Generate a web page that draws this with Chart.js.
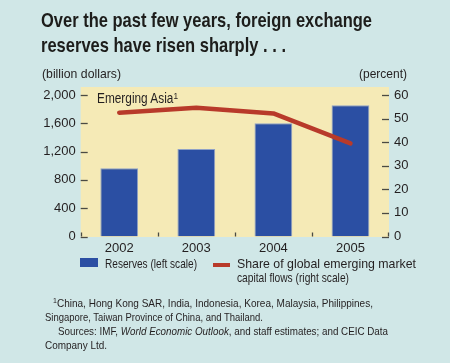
<!DOCTYPE html>
<html>
<head>
<meta charset="utf-8">
<script src="https://cdn.jsdelivr.net/npm/chart.js@4.4.0/dist/chart.umd.min.js"></script>
<style>
  html, body { margin: 0; padding: 0; }
  body { width: 450px; height: 363px; background: #d0e7e7; position: relative; overflow: hidden;
         font-family: 'Liberation Sans', Arial, sans-serif; color: #231f20; }
  #wrap { position: absolute; left: 0; top: 0; width: 450px; height: 363px; }
  .t { position: absolute; white-space: nowrap; transform-origin: 0 50%; }
  .title { left: 41px; font-weight: bold; font-size: 21px; line-height: 25px; color: #1d1d1b; }
  .unit { font-size: 13.5px; top: 66px; }
  .leg { font-size: 13.5px; line-height: 14px; }
  .note { font-size: 11.5px; line-height: 14px; }
  sup { font-size: 0.7em; vertical-align: 0.45em; line-height: 0; }
</style>
</head>
<body>
<div id="wrap"><canvas id="chart" width="450" height="363"></canvas></div>

<div class="t title fit" data-w="331" style="top:7px;">Over the past few years, foreign exchange</div>
<div class="t title fit" data-w="245" style="top:32px;">reserves have risen sharply . . .</div>
<div class="t unit fit" data-w="79" style="left:42px;">(billion dollars)</div>
<div class="t unit fit" data-w="48" style="left:359px;">(percent)</div>
<div class="t leg fit" data-w="81" style="left:96.5px;top:91px;font-size:14px;">Emerging Asia<sup>1</sup></div>

<div class="t" style="left:80px;top:258px;width:18px;height:9px;background:#2b4fa3;"></div>
<div class="t leg fit" data-w="92" style="left:105px;top:257px;">Reserves (left scale)</div>
<div class="t" style="left:213px;top:263px;width:17px;height:4px;background:#b83a2a;"></div>
<div class="t leg fit" data-w="179" style="left:237px;top:257px;">Share of global emerging market</div>
<div class="t leg fit" data-w="112" style="left:237px;top:271px;">capital flows (right scale)</div>

<div class="t note fit" data-w="320" style="left:53px;top:296px;"><sup>1</sup>China, Hong Kong SAR, India, Indonesia, Korea, Malaysia, Philippines,</div>
<div class="t note fit" data-w="218" style="left:45px;top:310px;">Singapore, Taiwan Province of China, and Thailand.</div>
<div class="t note fit" data-w="330" style="left:58px;top:324px;">Sources: IMF, <i>World Economic Outlook</i>, and staff estimates; and CEIC Data</div>
<div class="t note fit" data-w="62" style="left:45px;top:338px;">Company Ltd.</div>

<script>
  const years    = ['2002', '2003', '2004', '2005'];
  const reserves = [964, 1237, 1600, 1854];   // billion dollars, left scale
  const share    = [52.5, 54.6, 52.2, 39.5];  // percent, right scale

  const NUM_FONT = { family: "'Liberation Sans', Arial, sans-serif", size: 13 };
  const TICK_COLOR = '#4a4a44';

  // squeeze text to the condensed widths of the original typeface
  document.querySelectorAll('.fit').forEach(el => {
    const w = el.getBoundingClientRect().width;
    el.style.transform = 'scaleX(' + (el.dataset.w / w) + ')';
  });

  // yellow panel + tick marks drawn inside the plot area
  const panel = {
    id: 'panel',
    beforeDraw(chart) {
      const { ctx, chartArea: a } = chart;
      ctx.save();
      ctx.fillStyle = '#f5eab6';
      ctx.fillRect(a.left, a.top - 8, a.right - a.left, a.bottom - a.top + 8.5);
      ctx.restore();
    },
    afterDatasetsDraw(chart) {
      const { ctx, chartArea: a, scales } = chart;
      ctx.save();
      ctx.strokeStyle = TICK_COLOR;
      ctx.lineWidth = 1.3;
      scales.y.ticks.forEach(t => {
        const y = Math.round(scales.y.getPixelForValue(t.value)) + 0.5;
        ctx.beginPath(); ctx.moveTo(a.left, y); ctx.lineTo(a.left + 7, y); ctx.stroke();
      });
      scales.y2.ticks.forEach(t => {
        const y = Math.round(scales.y2.getPixelForValue(t.value)) + 0.5;
        ctx.beginPath(); ctx.moveTo(a.right - 7, y); ctx.lineTo(a.right, y); ctx.stroke();
      });
      const n = years.length;
      for (let i = 0; i <= n; i++) {
        const x = Math.round(a.left + i * (a.right - a.left) / n) + (i === n ? -0.5 : 0.5);
        ctx.beginPath(); ctx.moveTo(x, a.bottom); ctx.lineTo(x, a.bottom - 4); ctx.stroke();
      }
      ctx.restore();
    }
  };

  new Chart(document.getElementById('chart'), {
    data: {
      labels: years,
      datasets: [
        {
          type: 'line', data: share, yAxisID: 'y2', order: 0,
          borderColor: '#b83a2a', borderWidth: 4.5, pointRadius: 0, tension: 0,
          borderCapStyle: 'round', borderJoinStyle: 'round'
        },
        {
          type: 'bar', data: reserves, yAxisID: 'y', order: 1,
          backgroundColor: '#2b4fa3', borderColor: '#8fa1c6', borderWidth: 1,
          barPercentage: 0.49, categoryPercentage: 1
        }
      ]
    },
    options: {
      responsive: false,
      animation: false,
      devicePixelRatio: 1,
      layout: { padding: { top: 95, left: 0, right: 0, bottom: 0 } },
      plugins: { legend: { display: false }, tooltip: { enabled: false } },
      scales: {
        x: {
          offset: true,
          grid: { display: false, drawTicks: false },
          border: { display: false },
          ticks: { color: '#231f20', font: NUM_FONT, padding: 4 },
          afterFit: s => { s.height = 126.5; }
        },
        y: {
          position: 'left', min: 0, max: 2000,
          grid: { display: false, drawTicks: false },
          border: { display: false },
          ticks: {
            stepSize: 200, padding: 5, color: '#231f20', font: NUM_FONT,
            callback: v => v % 400 === 0 ? v.toLocaleString('en-US') : ''
          },
          afterFit: s => { s.width = 80.7; }
        },
        y2: {
          position: 'right', min: 0, max: 60,
          grid: { display: false, drawTicks: false },
          border: { display: false },
          ticks: { stepSize: 10, padding: 5, color: '#231f20', font: NUM_FONT },
          afterFit: s => { s.width = 61; }
        }
      }
    },
    plugins: [panel]
  });
</script>
</body>
</html>
